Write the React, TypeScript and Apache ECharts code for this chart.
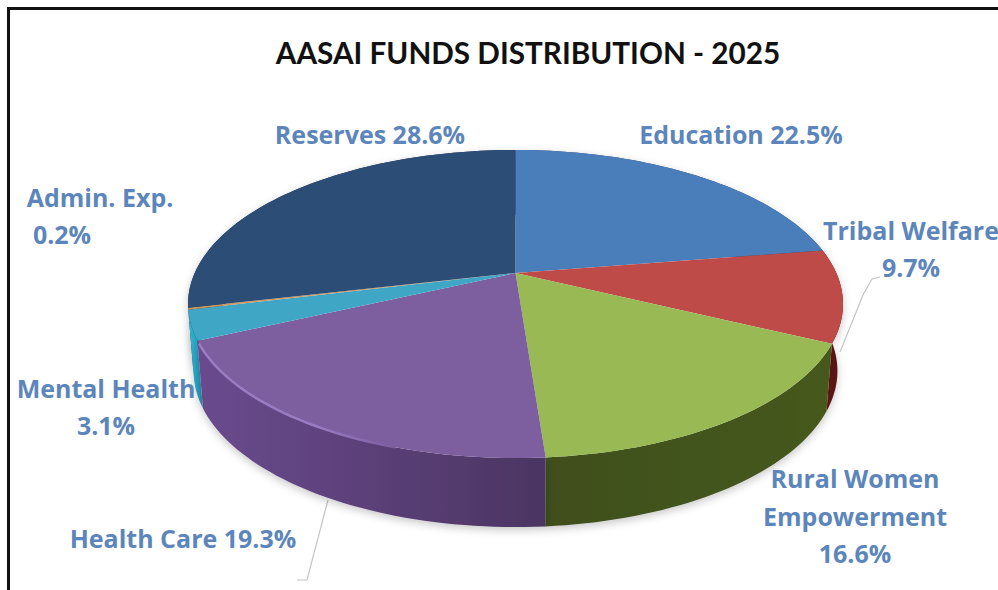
import React, { useEffect, useRef } from "react";
import * as echarts from "echarts";

const chartTitle = "AASAI FUNDS DISTRIBUTION - 2025";
const categories = ["Education", "Tribal Welfare", "Rural Women Empowerment", "Health Care", "Mental Health", "Admin. Exp.", "Reserves"];
const shares = [22.5, 9.7, 16.6, 19.3, 3.1, 0.2, 28.6];

const labelLines = [
  ["Education 22.5%"],
  ["Tribal Welfare", "9.7%"],
  ["Rural Women", "Empowerment", "16.6%"],
  ["Health Care 19.3%"],
  ["Mental Health", "3.1%"],
  ["Admin. Exp.", "0.2%"],
  ["Reserves 28.6%"],
];
const labelSpots = [
  [[741, 134]],
  [[911, 230], [911, 267]],
  [[855, 478], [855, 516], [855, 553]],
  [[183, 538]],
  [[106, 388], [106, 425]],
  [[100, 197], [62, 234]],
  [[370, 134]],
];
const topColors = ["#4a7ebb", "#be4b48", "#98b954", "#7d5fa0", "#3fa6c6", "#d0985c", "#2c4d75"];
const wallColors = [
  ["#2c4a70", "#2c4a70"],
  ["#7a1f1f", "#4d1212"],
  ["#3f4f1f", "#46591f"],
  ["#6a4a8e", "#4b3562"],
  ["#2ab8d8", "#2a90ac"],
  ["#8a5a2a", "#8a5a2a"],
  ["#1d3554", "#1d3554"],
];

// Perspective projection of the pie disc
const CX = 515.5, APEX_Y = 273, K = -0.2013, RY = 147.8, RX = 320.8;
const project = (deg: number): [number, number] => {
  const t = (deg * Math.PI) / 180;
  const u = Math.sin(t), v = -Math.cos(t), w = 1 + K * v;
  return [CX + (RX * u) / w, APEX_Y + (RY * v) / w];
};
const lower = (p: [number, number]): [number, number] => [CX + (p[0] - CX) * 0.983, 371 + (p[1] - 304) * 1.013];
const arc = (a: number, b: number) => {
  const out: [number, number][] = [];
  const n = Math.max(2, Math.ceil(Math.abs(b - a) / 1.5));
  for (let i = 0; i <= n; i++) out.push(project(a + ((b - a) * i) / n));
  return out;
};

const spans = shares.map((s, i) => {
  const before = shares.slice(0, i).reduce((x, y) => x + y, 0);
  return { index: i, start: before * 3.6, end: (before + s) * 3.6 };
});
const wallOrder = [...spans].sort((p, q) => {
  const depth = (s: typeof p) => -Math.cos((((s.start + s.end) / 2) * Math.PI) / 180);
  return depth(p) - depth(q);
});
const row = (s: (typeof spans)[number]) => [s.start, s.end, s.index];

export default function App() {
  const ref = useRef<HTMLDivElement>(null);
  useEffect(() => {
    if (!ref.current) return;
    const chart = echarts.init(ref.current, undefined, { renderer: "svg" });
    chart.setOption({
      animation: false,
      backgroundColor: "#ffffff",
      title: {
        text: chartTitle,
        left: 523,
        top: 32,
        textAlign: "center",
        textStyle: { fontFamily: "Lato", fontWeight: 700, fontSize: 29.7, color: "#111111" },
      },
      tooltip: { show: false },
      graphic: [
        { type: "polyline", silent: true, z: 10, shape: { points: [[8.5, 590], [8.5, 8.5], [998, 8.5]] }, style: { stroke: "#111111", lineWidth: 3, fill: "none" } },
        { type: "polyline", silent: true, z: 10, shape: { points: [[880, 277], [872, 279], [863, 295], [840, 352]] }, style: { stroke: "#c4c4c4", lineWidth: 1.2, fill: "none" } },
        { type: "polyline", silent: true, z: 0, shape: { points: [[328, 500], [307, 580], [297, 580]] }, style: { stroke: "#c4c4c4", lineWidth: 1.2, fill: "none" } },
      ],
      series: [
        {
          type: "custom",
          coordinateSystem: "none",
          silent: true,
          z: 2,
          data: wallOrder.map(row),
          renderItem: (_p: any, api: any) => {
            const a = api.value(0), b = api.value(1), idx = api.value(2);
            const up = arc(a, b);
            const dn = up.map(lower).reverse();
            return {
              type: "polygon",
              shape: { points: [...up, ...dn] },
              style: {
                fill: {
                  type: "linear", x: 0, y: 0, x2: 1, y2: 0,
                  colorStops: [{ offset: 0, color: wallColors[idx][0] }, { offset: 1, color: wallColors[idx][1] }],
                },
                shadowBlur: 8,
                shadowColor: "rgba(0,0,0,0.22)",
                shadowOffsetY: 3,
              },
            };
          },
        },
        {
          type: "custom",
          coordinateSystem: "none",
          silent: true,
          z: 3,
          data: spans.map(row),
          renderItem: (_p: any, api: any) => {
            const a = api.value(0), b = api.value(1), idx = api.value(2);
            const children: any[] = [
              {
                type: "polygon",
                shape: { points: [[CX, APEX_Y], ...arc(a, b)] },
                style: { fill: topColors[idx] },
              },
            ];
            if (idx === 3) {
              children.push({
                type: "polyline",
                shape: { points: arc(b - 1, a + 22) },
                style: {
                  fill: "none",
                  lineWidth: 2.5,
                  stroke: {
                    type: "linear", x: 0, y: 0, x2: 1, y2: 0,
                    colorStops: [
                      { offset: 0, color: "#9a7cc2" },
                      { offset: 0.6, color: "#9a7cc2" },
                      { offset: 1, color: "#7d5fa0" },
                    ],
                  },
                },
              });
            }
            return { type: "group", children };
          },
        },
        {
          type: "custom",
          coordinateSystem: "none",
          silent: true,
          z: 4,
          data: categories.map((_c, i) => [i]),
          renderItem: (_p: any, api: any) => {
            const idx = api.value(0);
            return {
              type: "group",
              children: labelLines[idx].map((line, j) => ({
                type: "text",
                x: labelSpots[idx][j][0],
                y: labelSpots[idx][j][1],
                style: {
                  text: line,
                  align: "center",
                  verticalAlign: "middle",
                  fontFamily: "Open Sans",
                  fontWeight: 700,
                  fontSize: 25,
                  fill: "#5c86bb",
                },
              })),
            };
          },
        },
      ],
    });
    return () => chart.dispose();
  }, []);
  return <div ref={ref} style={{ position: "absolute", left: 0, top: 0, width: 998, height: 590 }} />;
}
